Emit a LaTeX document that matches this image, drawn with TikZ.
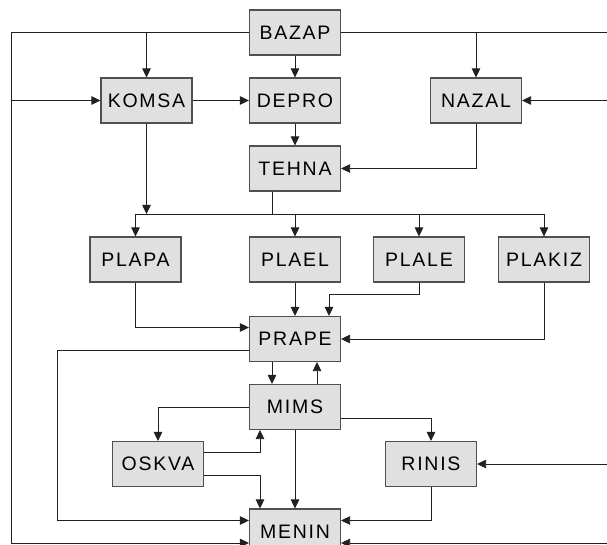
\documentclass[tikz,border=0pt]{standalone}
\usepackage{fontspec}
\setmainfont{Liberation Sans}[LetterSpace=9]
\usetikzlibrary{arrows.meta,calc}
\definecolor{boxfill}{HTML}{E0E0E0}
\definecolor{boxline}{HTML}{505050}
\definecolor{wire}{HTML}{202020}
\begin{document}
\begin{tikzpicture}[x=1pt,y=-1pt,
  blk/.style={draw=boxline,fill=boxfill,line width=1.1pt,minimum width=91pt,minimum height=45pt,inner sep=0pt,
    font=\fontsize{19.5}{22}\selectfont,text=black},
  arr/.style={draw=wire,line width=0.8pt,-{Triangle[length=9pt,width=8.5pt]}},
  ln/.style={draw=wire,line width=0.8pt}]
\useasboundingbox (0,0) rectangle (607,545);
\node[blk] (BAZAP) at (295,32.5) {BAZAP};
\node[blk] (KOMSA) at (146.5,100.5) {KOMSA};
\node[blk] (DEPRO) at (295,100.5) {DEPRO};
\node[blk] (NAZAL) at (476,100.5) {NAZAL};
\node[blk] (TEHNA) at (295,168.5) {TEHNA};
\node[blk] (PLAPA) at (135.5,259.5) {PLAPA};
\node[blk] (PLAEL) at (295,259.5) {PLAEL};
\node[blk] (PLALE) at (419,259.5) {PLALE};
\node[blk] (PLAKIZ) at (544,259.5) {PLAKIZ};
\node[blk] (PRAPE) at (295,339) {PRAPE};
\node[blk] (MIMS) at (295,407) {MIMS};
\node[blk] (OSKVA) at (158,464) {OSKVA};
\node[blk] (RINIS) at (431,464) {RINIS};
\node[blk] (MENIN) at (295,531.5) {MENIN};
% helper coordinates
\coordinate (lb) at (11,32.5);
\coordinate (rt) at (607,32.5);
\coordinate (rnaz) at (607,100.5);
\coordinate (rrin) at (607,464);
\coordinate (rmen) at (607,543);
\coordinate (mbot) at (0,543);
\coordinate (bus) at (0,214);
\coordinate (l2) at (57,0);
\coordinate (m1) at ($(MENIN.west)+(0,-11)$);
% top
\draw[arr] (BAZAP.west) -| (KOMSA.north);
\draw[arr] (BAZAP.west) -- (lb) |- (MENIN.west |- mbot);
\draw[arr] (lb |- KOMSA.west) -- (KOMSA.west);
\draw[arr] (BAZAP.south) -- (DEPRO.north);
\draw[ln] (BAZAP.east) -- (rt);
\draw[arr] (BAZAP.east) -| (NAZAL.north);
\draw[arr] (rnaz) -- (NAZAL.east);
\draw[arr] (KOMSA.east) -- (DEPRO.west);
\draw[arr] (DEPRO.south) -- (TEHNA.north);
\draw[arr] (NAZAL.south) |- (TEHNA.east);
% bus
\coordinate (tb) at ($(TEHNA.south)+(-23,0)$);
\draw[ln] (tb) -- (tb |- bus);
\draw[ln] (PLAPA |- bus) -- (PLAKIZ |- bus);
\draw[arr] (KOMSA.south) -- (KOMSA |- bus);
\draw[arr] (PLAPA |- bus) -- (PLAPA.north);
\draw[arr] (PLAEL |- bus) -- (PLAEL.north);
\draw[arr] (PLALE |- bus) -- (PLALE.north);
\draw[arr] (PLAKIZ |- bus) -- (PLAKIZ.north);
% into PRAPE
\draw[arr] (PLAPA.south) |- ($(PRAPE.west)+(0,-11.5)$);
\draw[arr] (PLAEL.south) -- (PRAPE.north);
\draw[arr] (PLALE.south) -- ++(0,11.5) -| ($(PRAPE.north)+(34,0)$);
\draw[arr] (PLAKIZ.south) |- (PRAPE.east);
\draw[arr] ($(PRAPE.west)+(0,11.5)$) -| (l2 |- m1) -- (m1);
% PRAPE <-> MIMS
\draw[arr] ($(PRAPE.south)+(-23,0)$) -- ($(MIMS.north)+(-23,0)$);
\draw[arr] ($(MIMS.north)+(22,0)$) -- ($(PRAPE.south)+(22,0)$);
% MIMS
\draw[arr] (MIMS.west) -| (OSKVA.north);
\draw[arr] ($(OSKVA.east)+(0,-12)$) -| ($(MIMS.south)+(-35,0)$);
\draw[arr] ($(OSKVA.east)+(0,11)$) -| ($(MENIN.north)+(-35,0)$);
\draw[arr] (MIMS.south) -- (MENIN.north);
\draw[arr] ($(MIMS.east)+(0,11)$) -| (RINIS.north);
\draw[arr] (rrin) -- (RINIS.east);
\draw[arr] (RINIS.south) |- ($(MENIN.east)+(0,-11)$);
\draw[arr] (rmen) -- (MENIN.east |- mbot);
\end{tikzpicture}
\end{document}
